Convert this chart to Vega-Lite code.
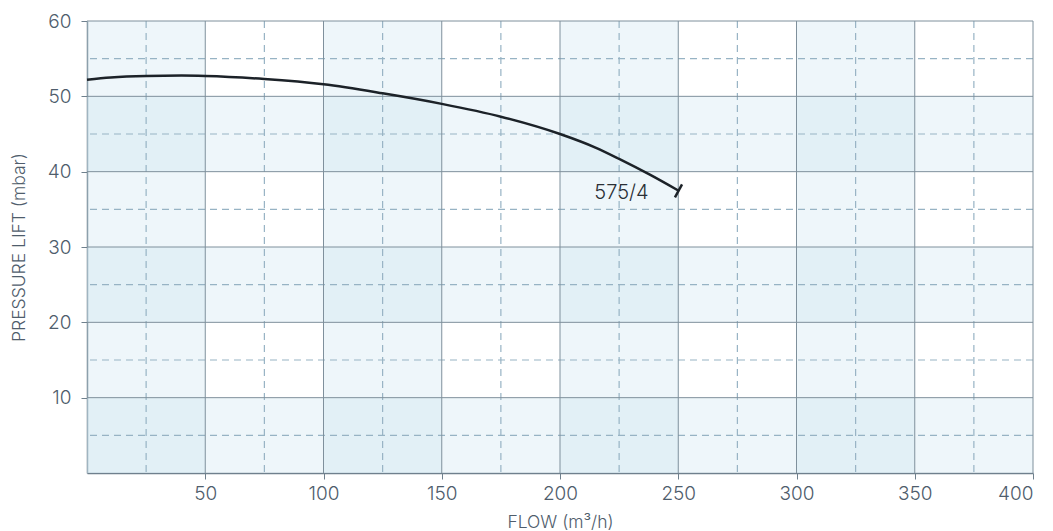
{
  "$schema": "https://vega.github.io/schema/vega-lite/v6.json",
  "width": 946,
  "height": 452,
  "autosize": {"type": "none"},
  "padding": {"left": 87, "top": 21, "right": 20, "bottom": 58},
  "background": "white",
  "config": {
    "view": {"stroke": null},
    "font": "Inter",
    "axis": {"grid": false}
  },
  "datasets": {
    "colbands": [{"x0": 0, "x1": 50}, {"x0": 100, "x1": 150}, {"x0": 200, "x1": 250}, {"x0": 300, "x1": 350}],
    "rowbands": [{"y0": 0, "y1": 10}, {"y0": 20, "y1": 30}, {"y0": 40, "y1": 50}],
    "minorx": [{"x": 25}, {"x": 75}, {"x": 125}, {"x": 175}, {"x": 225}, {"x": 275}, {"x": 325}, {"x": 375}],
    "minory": [{"y": 5}, {"y": 15}, {"y": 25}, {"y": 35}, {"y": 45}, {"y": 55}],
    "majorx": [{"x": 50}, {"x": 100}, {"x": 150}, {"x": 200}, {"x": 250}, {"x": 300}, {"x": 350}, {"x": 400}],
    "majory": [{"y": 10}, {"y": 20}, {"y": 30}, {"y": 40}, {"y": 50}, {"y": 60}],
    "curve": [
      {"flow": 0, "pressure": 52.2},
      {"flow": 10, "pressure": 52.5},
      {"flow": 25, "pressure": 52.7},
      {"flow": 40, "pressure": 52.75},
      {"flow": 50, "pressure": 52.7},
      {"flow": 75, "pressure": 52.3},
      {"flow": 100, "pressure": 51.6},
      {"flow": 125, "pressure": 50.4},
      {"flow": 150, "pressure": 49.0},
      {"flow": 175, "pressure": 47.3},
      {"flow": 200, "pressure": 45.0},
      {"flow": 215, "pressure": 43.2},
      {"flow": 225, "pressure": 41.7},
      {"flow": 238, "pressure": 39.6},
      {"flow": 250, "pressure": 37.5}
    ],
    "endtick": [{"flow": 248.6, "pressure": 36.6}, {"flow": 251.6, "pressure": 38.3}],
    "label": [{"flow": 226, "pressure": 37.2, "name": "575/4"}]
  },
  "layer": [
    {
      "data": {"name": "colbands"},
      "mark": {"type": "rect", "fill": "#cbe2ef", "opacity": 0.32},
      "encoding": {
        "x": {
          "field": "x0", "type": "quantitative",
          "scale": {"domain": [0, 400], "nice": false},
          "axis": {
            "values": [50, 100, 150, 200, 250, 300, 350, 400],
            "title": "FLOW (m³/h)",
            "titleFontSize": 17.5,
            "titleFontWeight": 300,
            "titleColor": "#4f5d6c",
            "titlePadding": 10,
            "labelFontSize": 19,
            "labelFontWeight": 300,
            "labelColor": "#4f5d6c",
            "labelPadding": 5,
            "tickSize": 6,
            "tickColor": "#6f808d",
            "domainColor": "#6f808d",
            "domainWidth": 1.5
          }
        },
        "x2": {"field": "x1"}
      }
    },
    {
      "data": {"name": "rowbands"},
      "mark": {"type": "rect", "fill": "#cbe2ef", "opacity": 0.32},
      "encoding": {
        "y": {
          "field": "y0", "type": "quantitative",
          "scale": {"domain": [0, 60], "nice": false},
          "axis": {
            "values": [10, 20, 30, 40, 50, 60],
            "title": "PRESSURE LIFT (mbar)",
            "titleFontSize": 17.5,
            "titleFontWeight": 300,
            "titleColor": "#4f5d6c",
            "titlePadding": 19,
            "labelFontSize": 19,
            "labelFontWeight": 300,
            "labelColor": "#4f5d6c",
            "labelPadding": 10,
            "tickSize": 6,
            "tickColor": "#6f808d",
            "domainColor": "#6f808d",
            "domainWidth": 1.5
          }
        },
        "y2": {"field": "y1"}
      }
    },
    {
      "data": {"name": "minorx"},
      "mark": {"type": "rule", "stroke": "#97b3c4", "strokeWidth": 1.2, "strokeDash": [7, 5]},
      "encoding": {"x": {"field": "x", "type": "quantitative"}}
    },
    {
      "data": {"name": "minory"},
      "mark": {"type": "rule", "stroke": "#97b3c4", "strokeWidth": 1.2, "strokeDash": [7, 5]},
      "encoding": {"y": {"field": "y", "type": "quantitative"}}
    },
    {
      "data": {"name": "majorx"},
      "mark": {"type": "rule", "stroke": "#7f909c", "strokeWidth": 1},
      "encoding": {"x": {"field": "x", "type": "quantitative"}}
    },
    {
      "data": {"name": "majory"},
      "mark": {"type": "rule", "stroke": "#7f909c", "strokeWidth": 1},
      "encoding": {"y": {"field": "y", "type": "quantitative"}}
    },
    {
      "data": {"name": "curve"},
      "mark": {"type": "line", "stroke": "#1c2228", "strokeWidth": 2.5, "interpolate": "monotone"},
      "encoding": {
        "x": {"field": "flow", "type": "quantitative"},
        "y": {"field": "pressure", "type": "quantitative"}
      }
    },
    {
      "data": {"name": "endtick"},
      "mark": {"type": "line", "stroke": "#1c2228", "strokeWidth": 2.5},
      "encoding": {
        "x": {"field": "flow", "type": "quantitative"},
        "y": {"field": "pressure", "type": "quantitative"}
      }
    },
    {
      "data": {"name": "label"},
      "mark": {"type": "text", "fontSize": 20, "fontWeight": 300, "color": "#2a2f35", "align": "center", "baseline": "middle"},
      "encoding": {
        "x": {"field": "flow", "type": "quantitative"},
        "y": {"field": "pressure", "type": "quantitative"},
        "text": {"field": "name"}
      }
    }
  ]
}
